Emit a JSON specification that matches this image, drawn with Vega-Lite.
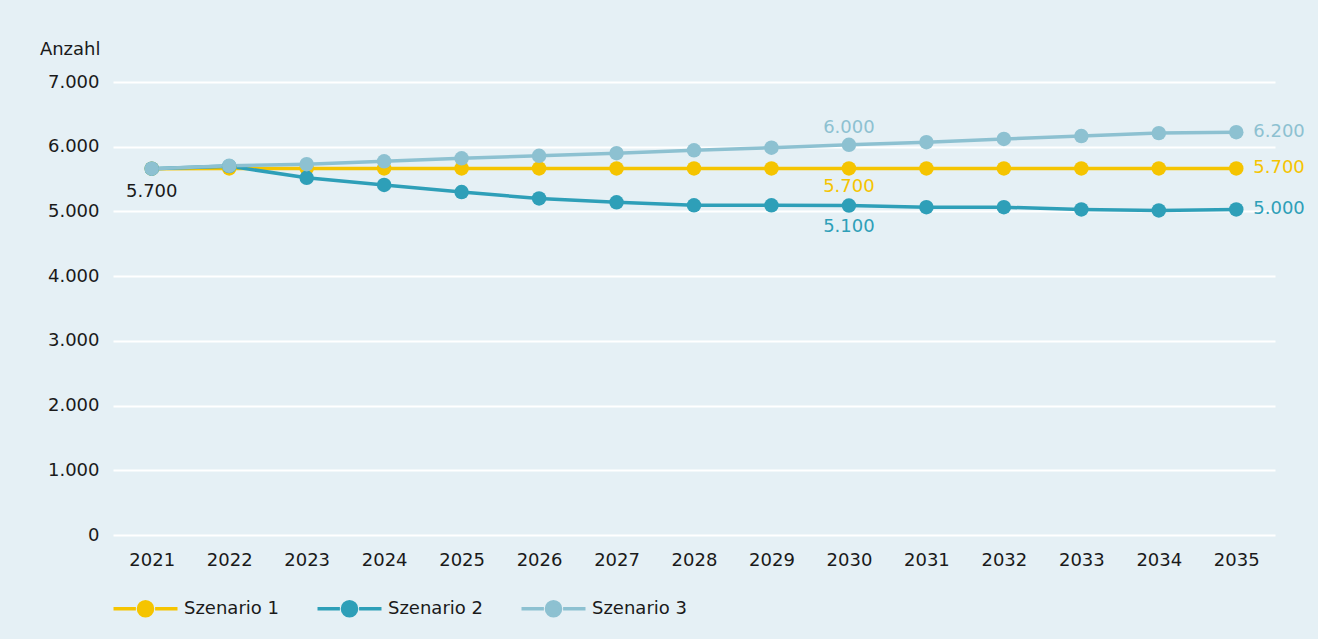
{
  "$schema": "https://vega.github.io/schema/vega-lite/v6.json",
  "autosize": "none",
  "width": 1162,
  "height": 453,
  "padding": {"left": 113, "top": 82, "right": 43, "bottom": 104},
  "background": "#e5f0f5",
  "config": {
    "view": {"stroke": null},
    "font": "DejaVu Sans",
    "axis": {"labelFont": "DejaVu Sans", "labelFontSize": 18, "labelColor": "#1a1a1a", "domain": false, "ticks": false},
    "legend": {"labelFont": "DejaVu Sans", "labelFontSize": 18, "labelColor": "#1a1a1a"}
  },
  "datasets": {
    "series": [
      {"year": "2021", "series": "Szenario 1", "value": 5660},
      {"year": "2022", "series": "Szenario 1", "value": 5665},
      {"year": "2023", "series": "Szenario 1", "value": 5665},
      {"year": "2024", "series": "Szenario 1", "value": 5665},
      {"year": "2025", "series": "Szenario 1", "value": 5665},
      {"year": "2026", "series": "Szenario 1", "value": 5665},
      {"year": "2027", "series": "Szenario 1", "value": 5665},
      {"year": "2028", "series": "Szenario 1", "value": 5665},
      {"year": "2029", "series": "Szenario 1", "value": 5665},
      {"year": "2030", "series": "Szenario 1", "value": 5665},
      {"year": "2031", "series": "Szenario 1", "value": 5665},
      {"year": "2032", "series": "Szenario 1", "value": 5665},
      {"year": "2033", "series": "Szenario 1", "value": 5665},
      {"year": "2034", "series": "Szenario 1", "value": 5665},
      {"year": "2035", "series": "Szenario 1", "value": 5665},
      {"year": "2021", "series": "Szenario 2", "value": 5660},
      {"year": "2022", "series": "Szenario 2", "value": 5700},
      {"year": "2023", "series": "Szenario 2", "value": 5520},
      {"year": "2024", "series": "Szenario 2", "value": 5410},
      {"year": "2025", "series": "Szenario 2", "value": 5300},
      {"year": "2026", "series": "Szenario 2", "value": 5200},
      {"year": "2027", "series": "Szenario 2", "value": 5140},
      {"year": "2028", "series": "Szenario 2", "value": 5095},
      {"year": "2029", "series": "Szenario 2", "value": 5095},
      {"year": "2030", "series": "Szenario 2", "value": 5090},
      {"year": "2031", "series": "Szenario 2", "value": 5065},
      {"year": "2032", "series": "Szenario 2", "value": 5065},
      {"year": "2033", "series": "Szenario 2", "value": 5030},
      {"year": "2034", "series": "Szenario 2", "value": 5015},
      {"year": "2035", "series": "Szenario 2", "value": 5030},
      {"year": "2021", "series": "Szenario 3", "value": 5660},
      {"year": "2022", "series": "Szenario 3", "value": 5705},
      {"year": "2023", "series": "Szenario 3", "value": 5730},
      {"year": "2024", "series": "Szenario 3", "value": 5775},
      {"year": "2025", "series": "Szenario 3", "value": 5820},
      {"year": "2026", "series": "Szenario 3", "value": 5860},
      {"year": "2027", "series": "Szenario 3", "value": 5900},
      {"year": "2028", "series": "Szenario 3", "value": 5945},
      {"year": "2029", "series": "Szenario 3", "value": 5985},
      {"year": "2030", "series": "Szenario 3", "value": 6030},
      {"year": "2031", "series": "Szenario 3", "value": 6070},
      {"year": "2032", "series": "Szenario 3", "value": 6120},
      {"year": "2033", "series": "Szenario 3", "value": 6165},
      {"year": "2034", "series": "Szenario 3", "value": 6210},
      {"year": "2035", "series": "Szenario 3", "value": 6225}
    ],
    "labels": [
      {"year": "2021", "series": "Szenario 1", "value": 5660, "text": "5.700", "pos": "first"},
      {"year": "2030", "series": "Szenario 3", "value": 6030, "text": "6.000", "pos": "above"},
      {"year": "2030", "series": "Szenario 1", "value": 5665, "text": "5.700", "pos": "below"},
      {"year": "2030", "series": "Szenario 2", "value": 5090, "text": "5.100", "pos": "below2"},
      {"year": "2035", "series": "Szenario 3", "value": 6225, "text": "6.200", "pos": "right"},
      {"year": "2035", "series": "Szenario 1", "value": 5665, "text": "5.700", "pos": "right"},
      {"year": "2035", "series": "Szenario 2", "value": 5030, "text": "5.000", "pos": "right"}
    ]
  },
  "encoding": {
    "x": {
      "field": "year", "type": "ordinal",
      "scale": {"type": "point", "padding": 0.5},
      "axis": {"title": null, "labelAngle": 0, "labelPadding": 16, "grid": false}
    },
    "y": {
      "field": "value", "type": "quantitative",
      "scale": {"domain": [0, 7000], "nice": false},
      "axis": {
        "title": "Anzahl", "titleAngle": 0, "titleAlign": "right", "titleBaseline": "alphabetic",
        "titleX": -13, "titleY": -28, "titleFont": "DejaVu Sans", "titleFontSize": 18, "titleFontWeight": "normal", "titleColor": "#1a1a1a",
        "values": [0, 1000, 2000, 3000, 4000, 5000, 6000, 7000],
        "format": ",.0f", "labelPadding": 14,
        "labelExpr": "replace(datum.label, ',', '.')",
        "grid": true, "gridColor": "#ffffff", "gridWidth": 2
      }
    },
    "color": {
      "field": "series", "type": "nominal",
      "scale": {"domain": ["Szenario 1", "Szenario 2", "Szenario 3"], "range": ["#f5c400", "#2e9fb8", "#8dc1d1"]},
      "legend": {
        "title": null, "orient": "none", "direction": "horizontal", "legendX": 9, "legendY": 503,
        "symbolType": "M-1.5,0L-0.45,0M0.45,0L1.5,0M-0.33,0A0.33,0.33 0 1,1 0.33,0A0.33,0.33 0 1,1 -0.33,0Z",
        "symbolSize": 1820, "symbolStrokeWidth": 3.5, "symbolOpacity": 1,
        "labelOffset": 15, "columnPadding": 31
      }
    }
  },
  "layer": [
    {
      "data": {"name": "series"},
      "mark": {"type": "line", "strokeWidth": 3.5, "point": {"filled": true, "size": 210, "opacity": 1}},
      "encoding": {}
    },
    {
      "data": {"name": "labels"},
      "transform": [{"filter": "datum.pos == 'first'"}],
      "mark": {"type": "text", "fontSize": 18, "dy": 23, "color": "#1a1a1a"},
      "encoding": {"text": {"field": "text"}, "color": {"value": "#1a1a1a"}}
    },
    {
      "data": {"name": "labels"},
      "transform": [{"filter": "datum.pos == 'above'"}],
      "mark": {"type": "text", "fontSize": 18, "dy": -17},
      "encoding": {"text": {"field": "text"}}
    },
    {
      "data": {"name": "labels"},
      "transform": [{"filter": "datum.pos == 'below'"}],
      "mark": {"type": "text", "fontSize": 18, "dy": 19},
      "encoding": {"text": {"field": "text"}}
    },
    {
      "data": {"name": "labels"},
      "transform": [{"filter": "datum.pos == 'below2'"}],
      "mark": {"type": "text", "fontSize": 18, "dy": 21},
      "encoding": {"text": {"field": "text"}}
    },
    {
      "data": {"name": "labels"},
      "transform": [{"filter": "datum.pos == 'right'"}],
      "mark": {"type": "text", "fontSize": 18, "align": "left", "dx": 17},
      "encoding": {"text": {"field": "text"}}
    }
  ]
}
